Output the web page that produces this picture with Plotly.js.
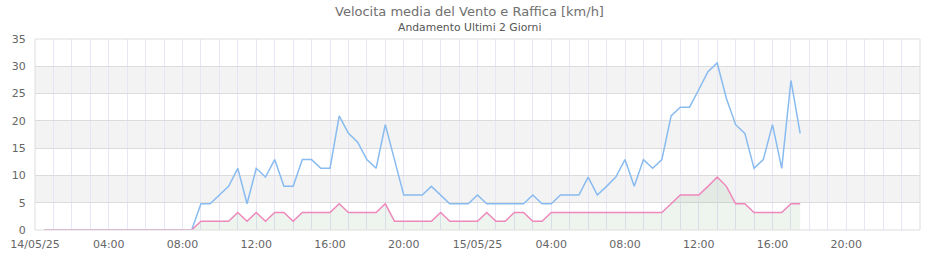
<!DOCTYPE html>
<html>
<head>
<meta charset="utf-8">
<script src="https://cdn.plot.ly/plotly-3.0.1.min.js"></script>
<style>html,body{margin:0;padding:0;background:#fff;}#chart{width:940px;height:260px;}</style>
</head>
<body>
<div id="chart"></div>
<script>
// Readings every 30 minutes, starting 14/05/25 00:30
const startTime = Date.UTC(2025, 4, 14, 0, 30);
const stepMinutes = 30;

// Raffica (gust) km/h
const gust = [
  0,0,0,0,0,0,0,0,0,0,0,0,0,0,0,0,0,
  4.8,4.8,6.4,8.0,11.3,4.8,11.3,9.7,12.9,8.0,8.0,12.9,12.9,11.3,11.3,20.9,
  17.7,16.1,12.9,11.3,19.3,12.9,6.4,6.4,6.4,8.0,6.4,4.8,4.8,4.8,6.4,4.8,
  4.8,4.8,4.8,4.8,6.4,4.8,4.8,6.4,6.4,6.4,9.7,6.4,8.0,9.7,12.9,8.0,
  12.9,11.3,12.9,20.9,22.5,22.5,25.7,29.0,30.6,24.1,19.3,17.7,11.3,12.9,19.3,11.3,
  27.4,17.7
];
// Velocita media (mean speed) km/h
const speed = [
  0,0,0,0,0,0,0,0,0,0,0,0,0,0,0,0,0,
  1.6,1.6,1.6,1.6,3.2,1.6,3.2,1.6,3.2,3.2,1.6,3.2,3.2,3.2,3.2,4.8,
  3.2,3.2,3.2,3.2,4.8,1.6,1.6,1.6,1.6,1.6,3.2,1.6,1.6,1.6,1.6,3.2,
  1.6,1.6,3.2,3.2,1.6,1.6,3.2,3.2,3.2,3.2,3.2,3.2,3.2,3.2,3.2,3.2,
  3.2,3.2,3.2,4.8,6.4,6.4,6.4,8.0,9.7,8.0,4.8,4.8,3.2,3.2,3.2,3.2,
  4.8,4.8
];

const tickVals = ['2025-05-14 00:00','2025-05-14 04:00','2025-05-14 08:00','2025-05-14 12:00','2025-05-14 16:00','2025-05-14 20:00',
                  '2025-05-15 00:00','2025-05-15 04:00','2025-05-15 08:00','2025-05-15 12:00','2025-05-15 16:00','2025-05-15 20:00'];
const tickText = ['14/05/25','04:00','08:00','12:00','16:00','20:00','15/05/25','04:00','08:00','12:00','16:00','20:00'];
const bands = [[5,10],[15,20],[25,30]];
const titleText = 'Velocita media del Vento e Raffica [km/h]';
const subtitleText = 'Andamento Ultimi 2 Giorni';

function fmt(ms){
  const d = new Date(ms);
  const p = n => String(n).padStart(2,'0');
  return d.getUTCFullYear()+'-'+p(d.getUTCMonth()+1)+'-'+p(d.getUTCDate())+' '+p(d.getUTCHours())+':'+p(d.getUTCMinutes());
}
const times = gust.map((_, i) => fmt(startTime + i*stepMinutes*60000));

const traces = [
  {x: times, y: gust, type:'scatter', mode:'lines', name:'Raffica',
   line:{color:'#88bbf0', width:1.5}, hoverinfo:'x+y'},
  {x: times, y: speed, type:'scatter', mode:'lines', name:'Velocita media',
   fill:'tozeroy', fillcolor:'rgba(120,170,120,0.13)',
   line:{color:'#ee88bb', width:1.5}, hoverinfo:'x+y'}
];

const shapes = bands.map(b => ({type:'rect', xref:'paper', yref:'y', x0:0, x1:1, y0:b[0], y1:b[1],
  fillcolor:'#f3f3f3', line:{width:0}, layer:'below'}));
shapes.push({type:'rect', xref:'paper', yref:'paper', x0:0, x1:1, y0:0, y1:1,
  line:{color:'#dddddd', width:1}, fillcolor:'rgba(0,0,0,0)', layer:'above'});

const plotTop = 39, plotH = 191;
const annotations = [
  {text:titleText, xref:'paper', yref:'paper', x:0.4915, y:1+(plotTop-11)/plotH, xanchor:'center', yanchor:'middle',
   showarrow:false, font:{family:'DejaVu Sans, sans-serif', size:13, color:'#707070'}},
  {text:subtitleText, xref:'paper', yref:'paper', x:0.4915, y:1+(plotTop-27.5)/plotH, xanchor:'center', yanchor:'middle',
   showarrow:false, font:{family:'DejaVu Sans, sans-serif', size:10.8, color:'#555'}}
];

const layout = {
  width:940, height:260,
  margin:{l:35, r:20, t:39, b:30},
  paper_bgcolor:'#fff', plot_bgcolor:'#fff',
  showlegend:false,
  font:{family:'DejaVu Sans, sans-serif', size:11, color:'#666'},
  xaxis:{type:'date', range:['2025-05-14 00:00','2025-05-16 00:00'],
    tickmode:'array', tickvals:tickVals, ticktext:tickText,
    showgrid:true, gridcolor:'#e6e6f7', gridwidth:1,
    minor:{dtick:3600000, showgrid:true, gridcolor:'#e6e6f7', gridwidth:1},
    ticks:'outside', ticklen:4, tickcolor:'rgba(0,0,0,0)',
    showline:false, zeroline:false, tickfont:{size:11, color:'#666'}, fixedrange:true},
  yaxis:{range:[0,35], dtick:5, tick0:0,
    showgrid:true, gridcolor:'#dcdcdc', gridwidth:1,
    ticks:'outside', ticklen:6, tickcolor:'rgba(0,0,0,0)',
    showline:false, zeroline:false, tickfont:{size:11, color:'#666'}, fixedrange:true},
  shapes: shapes,
  annotations: annotations
};

Plotly.newPlot('chart', traces, layout, {displayModeBar:false, staticPlot:true});
</script>
</body>
</html>
